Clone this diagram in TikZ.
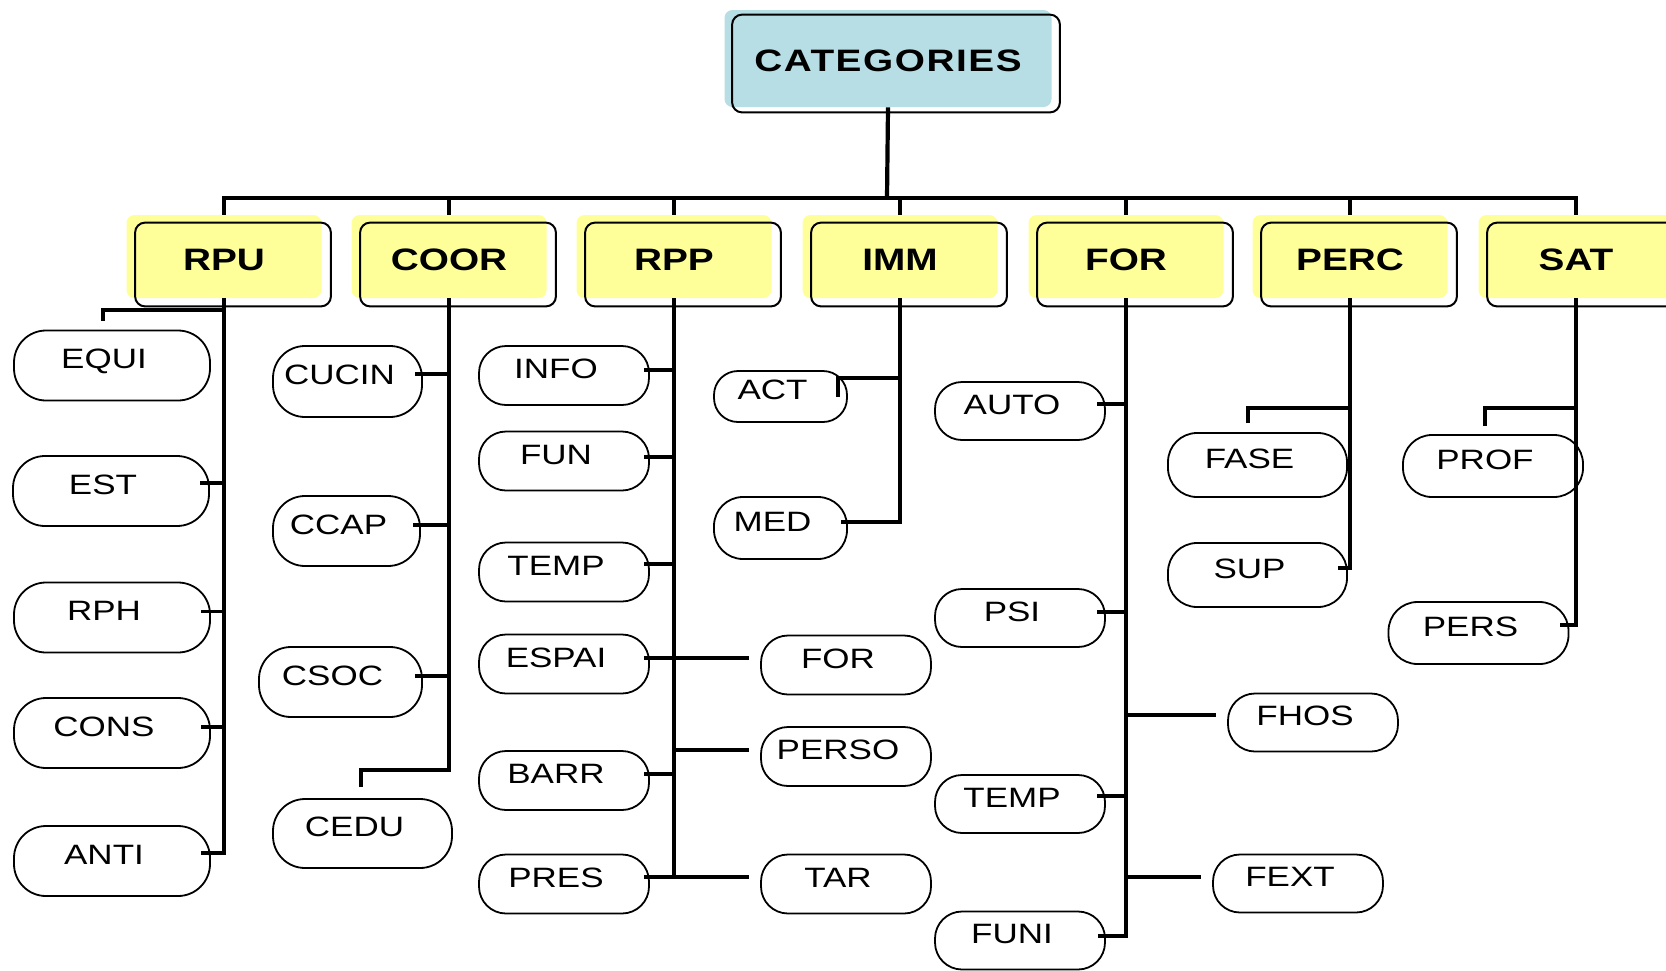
\documentclass[tikz,border=0pt]{standalone}
\usepackage{fontspec}
\setmainfont{Liberation Sans}[FakeStretch=1.25]
\usetikzlibrary{calc}
\definecolor{catblue}{RGB}{183,222,228}
\definecolor{catyellow}{RGB}{255,255,153}
\tikzset{
  trunk/.style={line width=2.1pt},
  stub/.style={line width=1.6pt},
  topbox/.style={fill=catblue, rounded corners=4pt, minimum width=163.5pt, minimum height=48.5pt,
    font=\fontsize{15.5}{18}\selectfont\bfseries\addfontfeature{LetterSpace=5}, text height=12.5pt, text depth=0pt, inner sep=0pt},
  catbox/.style={fill=catyellow, rounded corners=4pt, minimum width=97.5pt, minimum height=41.5pt,
    font=\fontsize{15.5}{18}\selectfont\bfseries, text height=13.5pt, text depth=0pt, inner sep=0pt},
  outl/.style={line width=1pt, rounded corners=5pt},
  leaf/.style={draw, line width=0.9pt, font=\fontsize{14}{16}\selectfont,
    text height=10pt, text depth=7pt, inner sep=0pt, execute at end node={\hspace{8pt}}},
  lfa/.style={leaf, rounded corners=16pt},
  lfb/.style={leaf, rounded corners=13.5pt},
  lfc/.style={leaf, rounded corners=14.5pt},
}
\newcommand\myconnl[3]{\draw[stub] (#1.south) |- ($(#2.east)+(#3)$);}
\newcommand\myconnr[3]{\draw[stub] (#1.south) |- ($(#2.west)+(#3)$);}
\begin{document}
\begin{tikzpicture}[x=0.5pt,y=-0.5pt]
\useasboundingbox[fill=white] (0,0) rectangle (1666,970);

% top and category boxes
\node[topbox] (cat) at (888,58.5) {CATEGORIES};
\node[catbox] (rpu)  at (224,256.5)  {RPU};
\node[catbox] (coor) at (449,256.5)  {COOR};
\node[catbox] (rpp)  at (674,256.5)  {RPP};
\node[catbox] (imm)  at (900,256.5)  {IMM};
\node[catbox] (for)  at (1126,256.5) {FOR};
\node[catbox] (perc) at (1350,256.5) {PERC};
\node[catbox] (sat)  at (1576,256.5) {SAT};
\draw[outl] ([shift={(4pt,-2.5pt)}]cat.south west) rectangle ([shift={(4pt,-2.5pt)}]cat.north east);
\foreach \n in {rpu,coor,rpp,imm,for,perc,sat}
  \draw[outl] ([shift={(4.5pt,-4pt)}]\n.south west) rectangle ([shift={(4.5pt,-4pt)}]\n.north east);

% leaves
\node[lfa, minimum width=98pt, minimum height=35pt] (equi) at (112,365.5) {EQUI};
\node[lfa, minimum width=98pt, minimum height=35pt] (est)  at (111,491)   {EST};
\node[lfa, minimum width=98pt, minimum height=35pt] (rph)  at (112,617.5) {RPH};
\node[lfa, minimum width=98pt, minimum height=35pt] (cons) at (112,733)   {CONS};
\node[lfa, minimum width=98pt, minimum height=35pt] (anti) at (112,861)   {ANTI};

\node[lfa, minimum width=74.5pt, minimum height=35.5pt] (cucin) at (347.5,381.5) {CUCIN};
\node[lfa, minimum width=73.5pt, minimum height=35pt]   (ccap)  at (346.5,531)   {CCAP};
\node[lfa, minimum width=81.5pt, minimum height=35pt]   (csoc)  at (340.5,682)   {CSOC};
\node[lfa, minimum width=89.5pt, minimum height=34.5pt] (cedu)  at (362.5,833.5) {CEDU};

\node[lfb, minimum width=85pt, minimum height=29.5pt] (info)  at (564,375.5) {INFO};
\node[lfb, minimum width=85pt, minimum height=29.5pt] (fun)   at (564,461)   {FUN};
\node[lfb, minimum width=85pt, minimum height=29.5pt] (tempa) at (564,572)   {TEMP};
\node[lfb, minimum width=85pt, minimum height=29.5pt] (espai) at (564,664)   {ESPAI};
\node[lfb, minimum width=85pt, minimum height=29.5pt] (barr)  at (564,780.5) {BARR};
\node[lfb, minimum width=85pt, minimum height=29.5pt] (pres)  at (564,884)   {PRES};
\node[lfb, minimum width=85pt, minimum height=29.5pt] (forl)  at (846,665)   {FOR};
\node[lfb, minimum width=85pt, minimum height=29.5pt] (perso) at (846,756.5) {PERSO};
\node[lfb, minimum width=85pt, minimum height=29.5pt] (tar)   at (846,884)   {TAR};

\node[leaf, minimum width=66.5pt, minimum height=25.5pt, rounded corners=12pt] (act) at (780.5,396.5) {ACT};
\node[lfc, minimum width=66.5pt, minimum height=31pt] (med) at (780.5,528) {MED};

\node[lfb, minimum width=85pt, minimum height=29pt] (auto)  at (1020,411)   {AUTO};
\node[lfb, minimum width=85pt, minimum height=29pt] (psi)   at (1020,618)   {PSI};
\node[lfb, minimum width=85pt, minimum height=29pt] (tempb) at (1020,804)   {TEMP};
\node[lfb, minimum width=85pt, minimum height=29pt] (funi)  at (1020,940.5) {FUNI};
\node[lfb, minimum width=85pt, minimum height=29pt] (fhos)  at (1313,722.5) {FHOS};
\node[lfb, minimum width=85pt, minimum height=29pt] (fext)  at (1298,883.5) {FEXT};

\node[lfc, minimum width=89.5pt, minimum height=32pt] (fase) at (1257.5,465) {FASE};
\node[lfc, minimum width=89.5pt, minimum height=32pt] (sup)  at (1257.5,575) {SUP};
\node[lfc, minimum width=90pt, minimum height=31pt]   (prof) at (1493,466)   {PROF};
\node[lfc, minimum width=90pt, minimum height=31pt]   (pers) at (1478.5,633) {PERS};

% bus
\coordinate (bus) at (887,198);
\draw[trunk] (cat.south) -- (bus);
\draw[trunk] (rpu.north) |- (bus) -| (sat.north);
\foreach \n in {coor,rpp,imm,for,perc}
  \draw[trunk] (\n.north) -- (\n.north |- bus);

% RPU
\draw[trunk] (rpu.south) |- ($(anti.east)+(-10,-8)$);
\draw[trunk] ($(equi.north)+(-9,-9)$) -- ++(0,-11) -| (rpu.south);
\myconnl{rpu}{est}{-10,-8}
\myconnl{rpu}{rph}{-10,-6}
\myconnl{rpu}{cons}{-10,-6}

% COOR
\draw[trunk] ($(cedu.north)+(-1.5,-11)$) -- ++(0,-17) -| (coor.south);
\myconnl{coor}{cucin}{-8,-7.5}
\myconnl{coor}{ccap}{-8,-6}
\myconnl{coor}{csoc}{-8,-6}

% RPP
\draw[trunk] (rpp.south) |- ($(pres.east)+(-6,-7)$);
\myconnl{rpp}{info}{-6,-5.5}
\myconnl{rpp}{fun}{-6,-4}
\myconnl{rpp}{tempa}{-6,-8}
\myconnl{rpp}{espai}{-6,-6}
\myconnl{rpp}{barr}{-6,-6.5}
\myconnr{rpp}{forl}{-11,-7}
\myconnr{rpp}{perso}{-11,-6.5}
\myconnr{rpp}{tar}{-11,-7}

% IMM
\draw[trunk] (imm.south) |- ($(med.east)+(-7,-6)$);
\draw[stub] (imm.south) |- ($(act.east)+(-10,-18.5)$) -- ($(act.east)+(-10,0)$);

% FOR
\draw[trunk] (for.south) |- ($(funi.east)+(-8,-4.5)$);
\myconnl{for}{auto}{-8.5,-7}
\myconnl{for}{psi}{-8.5,-6}
\myconnl{for}{tempb}{-8.5,-8}
\myconnr{for}{fhos}{-11,-7.5}
\myconnr{for}{fext}{-11,-6.5}

% PERC
\draw[trunk] (perc.south) |- ($(sup.east)+(-9.5,-7)$);
\draw[trunk] ($(fase.north)+(-9.5,-9)$) -- ++(0,-15) -| (perc.south);

% SAT
\draw[trunk] (sat.south) |- ($(pers.east)+(-9.5,-8)$);
\draw[trunk] ($(prof.north)+(-8,-8)$) -- ++(0,-18) -| (sat.south);
\end{tikzpicture}
\end{document}
